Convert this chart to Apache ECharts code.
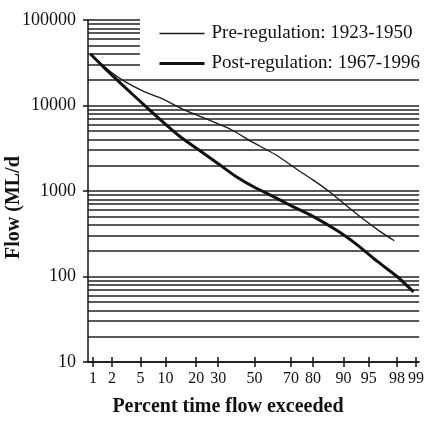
<!DOCTYPE html>
<html>
<head>
<meta charset="utf-8">
<script src="https://cdn.jsdelivr.net/npm/echarts@6/dist/echarts.min.js"></script>
<style>
html,body{margin:0;padding:0;background:#fff;}
#chart{width:427px;height:423px;}
</style>
</head>
<body>
<div id="chart"></div>
<script>
// ---- data (percent of time exceeded, flow in ML/d) ----
const tickPercents = [1, 2, 5, 10, 20, 30, 50, 70, 80, 90, 95, 98, 99];
const tickLabels = ['1', '2', '5', '10', '20', '30', '50', '70', '80', '90', '95', '98', '99'];

const prePercent = [0.9, 1.9, 3.1, 5.6, 9, 15.5, 22.5, 37, 48, 62, 73.5, 80, 86.5, 90, 94.3, 96.5, 97.8];
const preFlow = [40000, 24800, 19000, 14500, 12100, 8900, 7300, 5200, 3800, 2650, 1750, 1350, 950, 720, 460, 335, 262];

const postPercent = [0.9, 1.55, 3.1, 5.6, 8.9, 13.9, 21, 30.4, 39, 49.4, 60.7, 71, 80, 88.5, 93.1, 96.2, 98, 98.9];
const postFlow = [40000, 27200, 16300, 10100, 6700, 4400, 3030, 2050, 1500, 1120, 860, 655, 505, 340, 233, 149, 100, 66];

const yMin = 10, yMax = 100000;
const minorGrid = [20,30,40,50,60,70,80,90, 200,300,400,500,600,700,800,900,
  2000,3000,4000,5000,6000,7000,8000,9000, 20000,30000,40000,50000,60000,70000,80000,90000];

const seriesNames = ['Pre-regulation: 1923-1950', 'Post-regulation: 1967-1996'];
const xTitle = 'Percent time flow exceeded';
const yTitle = 'Flow (ML/d';

// inverse standard normal CDF (probability axis transform)
function probit(p) {
  const a=[-3.969683028665376e+01,2.209460984245205e+02,-2.759285104469687e+02,1.383577518672690e+02,-3.066479806614716e+01,2.506628277459239e+00];
  const b=[-5.447609879822406e+01,1.615858368580409e+02,-1.556989798598866e+02,6.680131188771972e+01,-1.328068155288572e+01];
  const c=[-7.784894002430293e-03,-3.223964580411365e-01,-2.400758277161838e+00,-2.549732539343734e+00,4.374664141464968e+00,2.938163982698783e+00];
  const d=[7.784695709041462e-03,3.224671290700398e-01,2.445134137142996e+00,3.754408661907416e+00];
  const pl = 0.02425, ph = 1 - pl;
  let q, r;
  if (p < pl) { q = Math.sqrt(-2*Math.log(p)); return (((((c[0]*q+c[1])*q+c[2])*q+c[3])*q+c[4])*q+c[5])/((((d[0]*q+d[1])*q+d[2])*q+d[3])*q+1); }
  if (p > ph) { q = Math.sqrt(-2*Math.log(1-p)); return -(((((c[0]*q+c[1])*q+c[2])*q+c[3])*q+c[4])*q+c[5])/((((d[0]*q+d[1])*q+d[2])*q+d[3])*q+1); }
  q = p - 0.5; r = q*q;
  return (((((a[0]*r+a[1])*r+a[2])*r+a[3])*r+a[4])*r+a[5])*q/(((((b[0]*r+b[1])*r+b[2])*r+b[3])*r+b[4])*r+1);
}
const z = pc => probit(pc / 100);
const tickZ = tickPercents.map(z);
function labelFor(v) {
  let best = 0, bd = Infinity;
  tickZ.forEach((t, i) => { const dd = Math.abs(t - v); if (dd < bd) { bd = dd; best = i; } });
  return tickLabels[best];
}
const X_MIN = -2.4, X_MAX = 2.371;

const FONT = 'Liberation Serif';
const chart = echarts.init(document.getElementById('chart'));
chart.setOption({
  animation: false,
  backgroundColor: '#fff',
  grid: { left: 88, right: 5, top: 20, bottom: 61, containLabel: false },
  legend: {
    data: [
      { name: seriesNames[0], lineStyle: { width: 1.3, color: '#1a1a1a' } },
      { name: seriesNames[1], lineStyle: { width: 3, color: '#111' } }
    ],
    orient: 'vertical',
    left: 140, top: 18,
    padding: [6, 3, 6, 18],
    itemGap: 11,
    itemWidth: 45, itemHeight: 14,
    backgroundColor: '#fff',
    selectedMode: false,
    itemStyle: { opacity: 0, borderWidth: 0 },
    textStyle: { fontFamily: FONT, fontSize: 19, color: '#111', lineHeight: 18, padding: [0, 0, 0, 2] }
  },
  xAxis: [{
    type: 'value',
    min: X_MIN, max: X_MAX,
    position: 'bottom',
    axisLine: { show: true, onZero: false, lineStyle: { color: '#111', width: 1.5 } },
    axisTick: { show: true, customValues: tickZ, length: 5, inside: false, lineStyle: { color: '#111', width: 1.5 } },
    axisLabel: { customValues: tickZ, formatter: labelFor, margin: 9, fontFamily: FONT, fontSize: 16, color: '#111' },
    splitLine: { show: false }
  }, {
    type: 'value',
    min: X_MIN, max: X_MAX,
    position: 'bottom',
    axisLine: { show: false, onZero: false },
    axisTick: { show: true, customValues: tickZ, length: 5, inside: true, lineStyle: { color: '#111', width: 1.5 } },
    axisLabel: { show: false },
    splitLine: { show: false }
  }],
  yAxis: {
    type: 'log', logBase: 10, min: yMin, max: yMax,
    axisLine: { show: true, onZero: false, lineStyle: { color: '#111', width: 1.5 } },
    axisTick: { show: true, length: 5, lineStyle: { color: '#111', width: 1.5 } },
    axisLabel: { margin: 12, fontFamily: FONT, fontSize: 18, color: '#111', formatter: v => String(Math.round(v)) },
    splitLine: { show: true, lineStyle: { color: '#222', width: 1.7 } },
    minorTick: { show: false }
  },
  graphic: [
    { type: 'text', x: 228, y: 407,
      style: { text: xTitle, font: 'bold 20px "Liberation Serif"', fill: '#111', align: 'center', verticalAlign: 'middle' } },
    { type: 'text', x: 4, y: 259, rotation: Math.PI / 2,
      style: { text: yTitle, font: 'bold 20px "Liberation Serif"', fill: '#111' } }
  ],
  series: [{
    name: seriesNames[0],
    type: 'line',
    data: prePercent.map((p, i) => [z(p), preFlow[i]]),
    symbol: 'none',
    smooth: 0.2,
    lineStyle: { color: '#1a1a1a', width: 1.3 },
    itemStyle: { color: '#1a1a1a' },
    z: 4,
    markLine: {
      silent: true, symbol: 'none', z: 2, animation: false,
      label: { show: false },
      lineStyle: { color: '#222', width: 1.7, type: 'solid' },
      data: minorGrid.map(v => ({ yAxis: v }))
    }
  }, {
    name: seriesNames[1],
    type: 'line',
    data: postPercent.map((p, i) => [z(p), postFlow[i]]),
    symbol: 'none',
    smooth: 0.2,
    lineStyle: { color: '#111', width: 3 },
    itemStyle: { color: '#111' },
    z: 4
  }]
});
</script>
</body>
</html>
